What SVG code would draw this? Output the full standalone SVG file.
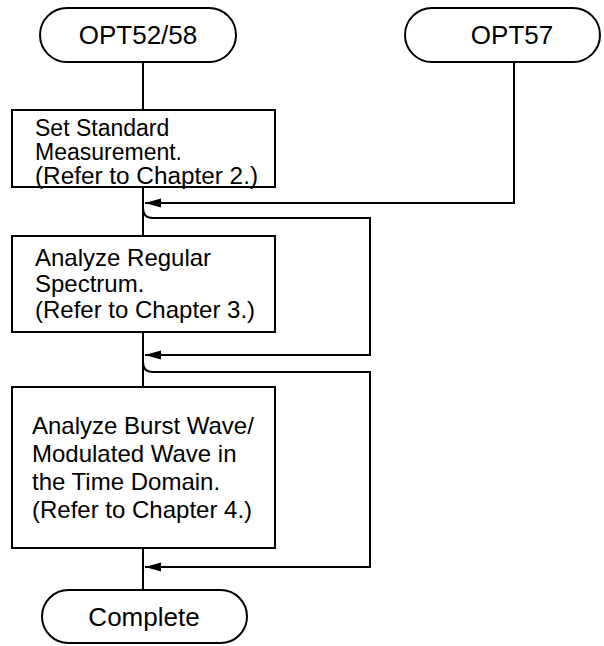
<svg xmlns="http://www.w3.org/2000/svg" width="604" height="646" viewBox="0 0 604 646">
<style>
.box{fill:#fff;stroke:#000;stroke-width:2}
.ln{fill:none;stroke:#000;stroke-width:2}
.t{font-family:"Liberation Sans",Arial,sans-serif;font-size:24px;fill:#000}
.s{font-size:23px}
.tt{font-family:"Liberation Sans",Arial,sans-serif;font-size:26px;fill:#000;text-anchor:middle}
</style>
<defs>
<marker id="ah" viewBox="0 0 16 10" refX="16" refY="5" markerWidth="16" markerHeight="10" markerUnits="userSpaceOnUse" orient="auto">
<path d="M0,0.5 L16,5 L0,9.5 Z" fill="#000"/>
</marker>
</defs>
<rect width="604" height="646" fill="#fff"/>
<g id="connectors">
<path class="ln" d="M143,62 V110"/>
<path class="ln" d="M143,187 V236"/>
<path class="ln" d="M143,332 V387"/>
<path class="ln" d="M143,548 V590"/>
<path class="ln" d="M514,62 V203 H145" marker-end="url(#ah)"/>
<path class="ln" d="M143,208 Q143,218 153,218 H370 V355 H145" marker-end="url(#ah)"/>
<path class="ln" d="M143,362 Q143,372 153,372 H370 V567 H145" marker-end="url(#ah)"/>
</g>
<g id="opt5258">
<rect class="box" x="40" y="8" width="196" height="54" rx="27"/>
<text class="tt" x="138" y="44">OPT52/58</text>
</g>
<g id="opt57">
<rect class="box" x="405" y="8" width="195" height="54" rx="27"/>
<text class="tt" x="512" y="44">OPT57</text>
</g>
<g id="step1">
<rect class="box" x="12" y="110" width="263" height="77"/>
<text class="t s" x="35" y="136">Set Standard</text>
<text class="t s" x="35" y="160">Measurement.</text>
<text class="t s" x="35" y="184" textLength="223" lengthAdjust="spacingAndGlyphs">(Refer to Chapter 2.)</text>
</g>
<g id="step2">
<rect class="box" x="12" y="236" width="263" height="96"/>
<text class="t" x="35" y="266">Analyze Regular</text>
<text class="t" x="35" y="292">Spectrum.</text>
<text class="t" x="35" y="318">(Refer to Chapter 3.)</text>
</g>
<g id="step3">
<rect class="box" x="12" y="387" width="263" height="161"/>
<text class="t" x="32" y="434">Analyze Burst Wave/</text>
<text class="t" x="32" y="462">Modulated Wave in</text>
<text class="t" x="32" y="490">the Time Domain.</text>
<text class="t" x="32" y="518">(Refer to Chapter 4.)</text>
</g>
<g id="complete">
<rect class="box" x="42" y="590" width="205" height="53" rx="26.5"/>
<text class="tt" x="144" y="626">Complete</text>
</g>
</svg>
